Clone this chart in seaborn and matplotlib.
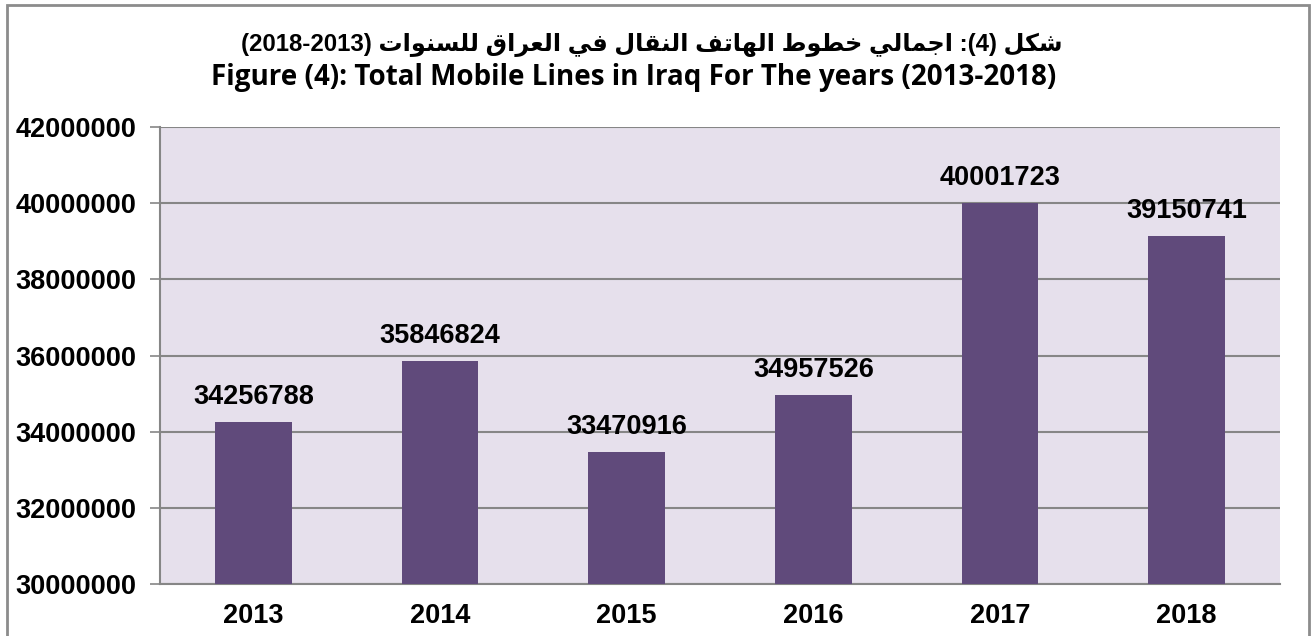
import matplotlib
matplotlib.use("Agg")
import matplotlib.pyplot as plt
import seaborn as sns
import pandas as pd
from matplotlib.patches import Rectangle

years = ["2013", "2014", "2015", "2016", "2017", "2018"]
mobile_lines = [34256788, 35846824, 33470916, 34957526, 40001723, 39150741]
y_ticks = [30000000, 32000000, 34000000, 36000000, 38000000, 40000000, 42000000]
title_ar = "شكل (4): اجمالي خطوط الهاتف النقال في العراق للسنوات (2013-2018)"
title_en = "Figure (4): Total Mobile Lines in Iraq For The years (2013-2018)"

# --- minimal Arabic shaping + RTL visual ordering ---
DUAL = {'ت': 0xFE95, 'ج': 0xFE9D, 'خ': 0xFEA5, 'س': 0xFEB1, 'ش': 0xFEB5,
        'ط': 0xFEC1, 'ع': 0xFEC9, 'ف': 0xFED1, 'ق': 0xFED5, 'ك': 0xFED9,
        'ل': 0xFEDD, 'م': 0xFEE1, 'ن': 0xFEE5, 'ه': 0xFEE9, 'ي': 0xFEF1}
RIGHT = {'ا': 0xFE8D, 'ر': 0xFEAD, 'و': 0xFEED}


def is_ar(c):
    return c in DUAL or c in RIGHT


def shape_word(w):
    out = []
    for i, c in enumerate(w):
        if not is_ar(c):
            out.append(c)
            continue
        prev = w[i - 1] if i > 0 else None
        nxt = w[i + 1] if i + 1 < len(w) else None
        jp = prev is not None and prev in DUAL
        jn = c in DUAL and nxt is not None and is_ar(nxt)
        base = DUAL.get(c, RIGHT.get(c))
        if jp and jn:
            off = 3
        elif jp:
            off = 1
        elif jn:
            off = 2
        else:
            off = 0
        out.append(chr(base + off))
    return "".join(reversed(out))


def neutral_token(t):
    runs, cur = [], ""
    for c in t:
        if c.isdigit():
            cur += c
        else:
            if cur:
                runs.append(cur)
                cur = ""
            runs.append(c)
    if cur:
        runs.append(cur)
    mirror = {"(": ")", ")": "("}
    return "".join(mirror.get(r, r) for r in reversed(runs))


def rtl_visual(s):
    toks = s.split(" ")
    vis = []
    for t in reversed(toks):
        if any(is_ar(c) for c in t):
            vis.append(shape_word(t))
        else:
            vis.append(neutral_token(t))
    return " ".join(vis)


sns.set_theme(style="white")
plt.rcParams["font.family"] = ["Liberation Sans", "DejaVu Sans"]
plt.rcParams["text.color"] = "black"
plt.rcParams["xtick.color"] = "black"
plt.rcParams["ytick.color"] = "black"

df = pd.DataFrame({"year": years, "lines": mobile_lines})

fig = plt.figure(figsize=(13.12, 6.36), dpi=100)
ax = fig.add_axes([160 / 1312, 1 - 584 / 636, 1120 / 1312, 457 / 636])
ax.set_facecolor("#E6E0EC")

sns.barplot(data=df, x="year", y="lines", color="#604A7B", width=0.41,
            saturation=1, ax=ax, zorder=3, edgecolor="none", linewidth=0)

ax.set_ylim(30000000, 42000000)
ax.set_xlim(-0.5, 5.5)
ax.set_yticks(y_ticks)
ax.set_yticklabels([str(v) for v in y_ticks], fontsize=19.5, fontweight="bold", color="black")
ax.set_xticks(range(len(years)))
ax.set_xticklabels(years, fontsize=19.5, fontweight="bold", color="black")
ax.set_xticks([i - 0.5 for i in range(len(years) + 1)], minor=True)
ax.tick_params(axis="x", which="major", length=0, pad=14, labelcolor="black")
ax.tick_params(axis="x", which="minor", length=6, width=1.2, color="#868686", direction="out")
ax.tick_params(axis="y", length=7, width=1.2, color="#868686", direction="out", pad=10,
               left=True, labelcolor="black")
ax.set_xlabel("")
ax.set_ylabel("")
ax.grid(axis="y", color="#868686", linewidth=1.5, zorder=0)
ax.set_axisbelow(True)
for s in ["top", "right"]:
    ax.spines[s].set_visible(False)
for s in ["left", "bottom"]:
    ax.spines[s].set_color("#868686")
    ax.spines[s].set_linewidth(1.5)

for i, v in enumerate(mobile_lines):
    ax.annotate(str(v), xy=(i, v), xytext=(0, 12), textcoords="offset pixels",
                ha="center", va="bottom", fontsize=19.5, fontweight="bold",
                color="black", zorder=5)

fig.text(652 / 1312, 1 - 45 / 636, rtl_visual(title_ar), ha="center", va="center",
         fontsize=17.3, fontweight="bold", color="black",
         family=["Liberation Sans", "DejaVu Sans"])
fig.text(634 / 1312, 1 - 77 / 636, title_en, ha="center", va="center",
         fontsize=20, fontweight="bold", color="black", family=["Open Sans", "DejaVu Sans"])

fig.patches.append(Rectangle((7 / 1312, -0.02), 1302 / 1312, 1.02 - 5 / 636,
                             transform=fig.transFigure, fill=False,
                             edgecolor="#8c8c8c", linewidth=2, zorder=10))

fig.savefig("out.png", dpi=100)
